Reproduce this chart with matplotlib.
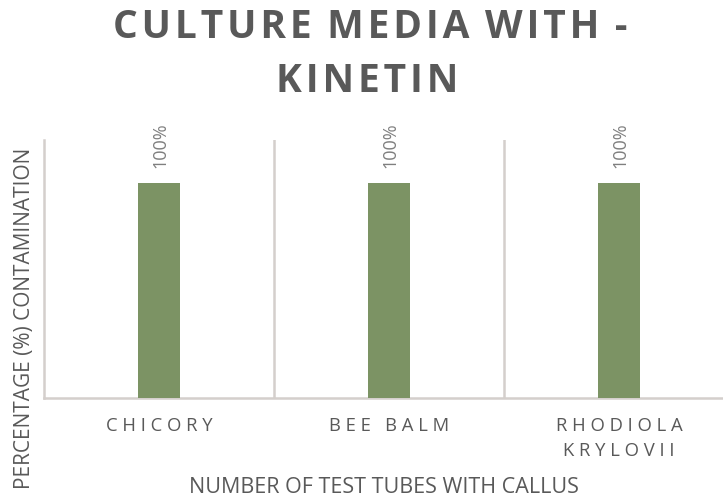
import matplotlib
matplotlib.use("Agg")
import matplotlib.pyplot as plt

categories = ["CHICORY", "BEE BALM", "RHODIOLA\nKRYLOVII"]
contamination = [1.0, 1.0, 1.0]
value_labels = ["100%", "100%", "100%"]


def spaced(s, sep=" ", word_gap=3):
    # letter-spaced text, wider gap between words
    out = []
    for line in s.split("\n"):
        words = [sep.join(list(w)) for w in line.split(" ")]
        out.append((sep * word_gap).join(words))
    return "\n".join(out)


fig = plt.figure(figsize=(7.23, 4.98), dpi=100)
ax = fig.add_axes([44 / 723, 100 / 498, 690 / 723, 258 / 498])

grey_line = "#d4cfcc"
text_grey = "#595959"
bar_color = "#7c9364"
fam = ["Open Sans", "DejaVu Sans"]

x = list(range(len(categories)))
ax.bar(x, contamination, width=0.18, color=bar_color, zorder=3)

for xi, v, lab in zip(x, contamination, value_labels):
    ax.annotate(lab, (xi, v), xytext=(1, 11), textcoords="offset points",
                rotation=90, ha="center", va="bottom", fontsize=13,
                color="#7f7f7f", family=fam)

ax.set_xlim(-0.5, 2.5)
ax.set_ylim(0, 1.2)
for sep in [0.5, 1.5, 2.5]:
    ax.axvline(sep, color=grey_line, lw=1.8, zorder=1)

ax.set_xticks(x)
ax.set_xticklabels([spaced(c) for c in categories], fontsize=13.3, color=text_grey,
                   family=fam, linespacing=1.5)
ax.tick_params(axis="x", length=0, pad=14)
ax.set_yticks([])

for side in ["top", "right"]:
    ax.spines[side].set_visible(False)
for side in ["left", "bottom"]:
    ax.spines[side].set_color(grey_line)
    ax.spines[side].set_linewidth(1.8)

fig.text(384 / 723, 1 - 487 / 498, "NUMBER OF TEST TUBES WITH CALLUS", ha="center", va="center",
         fontsize=15.5, color=text_grey, family=fam)
fig.text(25 / 723, 1 - 318 / 498, "PERCENTAGE (%) CONTAMINATION", ha="center", va="center",
         rotation=90, fontsize=15, color=text_grey, family=fam)

title_sep = "\u200a"
fig.text(370 / 723, 1 - 28 / 498, spaced("CULTURE MEDIA WITH -", sep=title_sep, word_gap=4),
         ha="center", va="center", fontsize=28, fontweight="bold", color=text_grey, family=fam)
fig.text(367 / 723, 1 - 81 / 498, spaced("KINETIN", sep=title_sep), ha="center", va="center",
         fontsize=28, fontweight="bold", color=text_grey, family=fam)

fig.savefig("out.png", dpi=100)
